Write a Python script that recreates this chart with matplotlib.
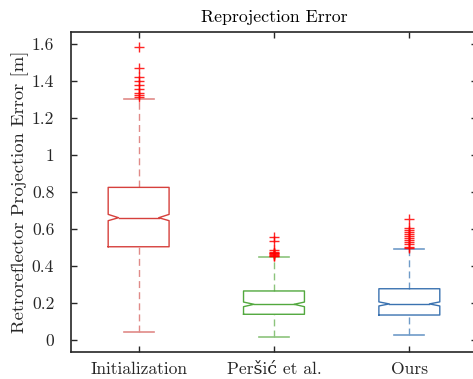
import matplotlib
matplotlib.use("Agg")
import matplotlib.pyplot as plt
import numpy as np

plt.rcParams['font.family'] = ['cmr10', 'DejaVu Serif']
plt.rcParams['axes.formatter.use_mathtext'] = True

categories = ['Initialization', 'Peršić et al.', 'Ours']
medians = [0.661, 0.193, 0.195]
q1 = [0.504, 0.139, 0.135]
q3 = [0.825, 0.265, 0.277]
notch_lo = [0.645, 0.180, 0.184]
notch_hi = [0.679, 0.205, 0.206]
whisker_lo = [0.043, 0.015, 0.027]
whisker_hi = [1.303, 0.449, 0.493]
outliers_init = [1.584, 1.468, 1.42, 1.398, 1.38, 1.355, 1.337, 1.326, 1.315]
outliers_persic = [0.555, 0.537, 0.484, 0.478, 0.472, 0.468, 0.464, 0.460, 0.456, 0.452]
outliers_ours = [0.653, 0.607, 0.595, 0.586, 0.571, 0.562, 0.55, 0.541,
                 0.528, 0.517, 0.504, 0.498]
outliers = [outliers_init, outliers_persic, outliers_ours]

box_colors = ['#d6403c', '#52a83e', '#3a72b0']
whisk_colors = ['#e08a88', '#8cc47c', '#6f9bc8']
yticks = [0, 0.2, 0.4, 0.6, 0.8, 1, 1.2, 1.4, 1.6]
ytick_labels = ['0', '0.2', '0.4', '0.6', '0.8', '1', '1.2', '1.4', '1.6']

fig = plt.figure(figsize=(4.73, 3.79), dpi=100)
ax = fig.add_axes([0.150, 0.0712, 0.8585, 0.8444])

w = 0.45
capw = 0.22
d = 0.17 * w
for i in range(len(categories)):
    p = i + 1
    x0, x1 = p - w / 2, p + w / 2
    c = box_colors[i]
    wc = whisk_colors[i]
    bx = [x0, x0, x0 + d, x0, x0, x1, x1, x1 - d, x1, x1, x0]
    by = [q1[i], notch_lo[i], medians[i], notch_hi[i], q3[i], q3[i],
          notch_hi[i], medians[i], notch_lo[i], q1[i], q1[i]]
    ax.plot(bx, by, color=c, lw=1.0, zorder=3)
    ax.plot([x0 + d, x1 - d], [medians[i], medians[i]], color=c, lw=1.0, zorder=3)
    ax.plot([p, p], [q3[i], whisker_hi[i]], color=wc, lw=1.0, ls=(0, (5, 3)), zorder=2)
    ax.plot([p, p], [whisker_lo[i], q1[i]], color=wc, lw=1.0, ls=(0, (5, 3)), zorder=2)
    ax.plot([p - capw / 2, p + capw / 2], [whisker_hi[i]] * 2, color=wc, lw=1.2, zorder=2)
    ax.plot([p - capw / 2, p + capw / 2], [whisker_lo[i]] * 2, color=wc, lw=1.2, zorder=2)
    ax.plot([p] * len(outliers[i]), outliers[i], ls='none', marker='+',
            color='#ff0000', markersize=6.5, mew=1.0, alpha=0.85, zorder=4)

ax.set_xlim(0.5, 3.5)
ax.set_ylim(-0.065, 1.665)
ax.set_xticks([1, 2, 3])
ax.set_xticklabels(categories, fontsize=12.6)
ax.set_yticks(yticks)
ax.set_yticklabels(ytick_labels, fontsize=12.6)
ax.tick_params(direction='in', top=True, right=True, length=4, width=1.0,
               colors='#262626', labelcolor='#262626')
ax.tick_params(axis='x', pad=7)
ax.tick_params(axis='y', pad=12)
for s in ax.spines.values():
    s.set_color('#262626')
    s.set_linewidth(1.2)
ax.set_ylabel('Retroreflector Projection Error [m]', fontsize=13.4,
              color='#262626', labelpad=2)
ax.set_title('Reprojection Error', fontsize=12.8, color='black', pad=7)

fig.savefig('out.png', dpi=100)
